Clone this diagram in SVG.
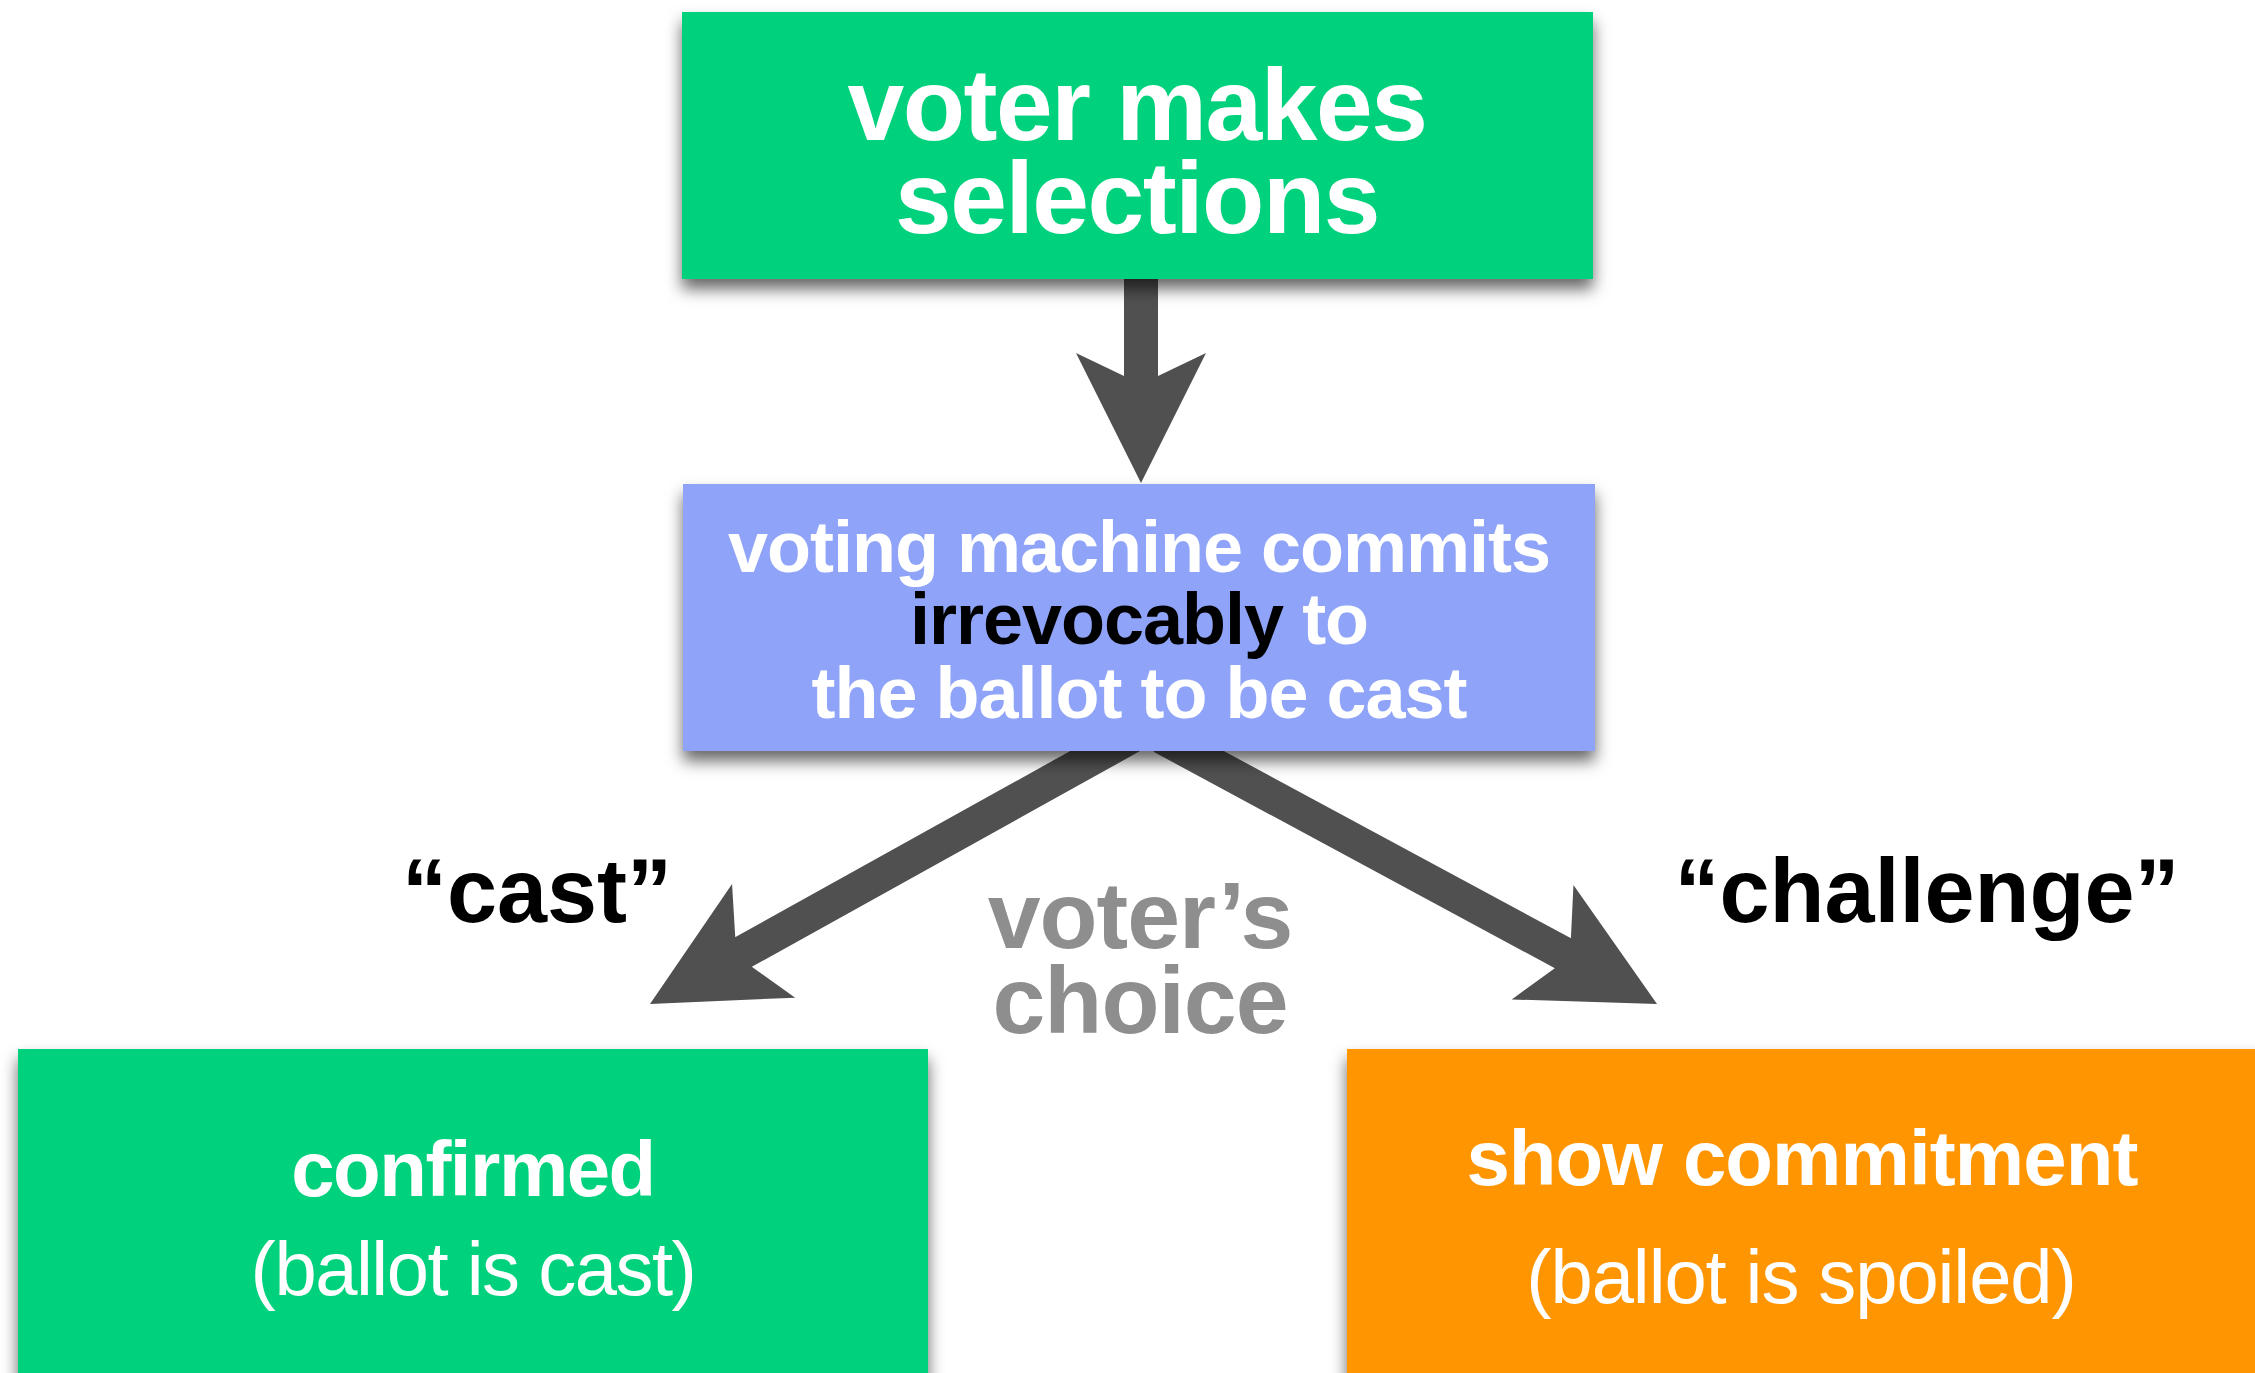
<svg xmlns="http://www.w3.org/2000/svg" width="2255" height="1373" viewBox="0 0 2255 1373">
<style>
  .bold { font-family: "Liberation Sans", Arial, sans-serif; font-weight: 700; }
  .reg { font-family: "Liberation Sans", Arial, sans-serif; font-weight: 400; }
  .w { fill: #ffffff; }
  .k { fill: #000000; }
  .g { fill: #8e8e8e; }
  .conn { stroke: #505050; stroke-width: 34; fill: none; marker-end: url(#head); }
  .box { filter: url(#shadow); }
</style>
<defs>
  <filter id="shadow" x="-10%" y="-20%" width="120%" height="150%">
    <feDropShadow dx="0" dy="10" stdDeviation="8" flood-color="#000" flood-opacity="0.6"/>
  </filter>
  <marker id="head" markerUnits="userSpaceOnUse" viewBox="-135 -70 140 140" markerWidth="140" markerHeight="140" refX="-100" refY="0" orient="auto">
    <path d="M0,0 L-130,-65 L-107,-17 L-107,17 L-130,65 Z" fill="#505050"/>
  </marker>
</defs>
<rect x="0" y="0" width="2255" height="1373" fill="#ffffff"/>

<g id="connectors">
  <path class="conn" d="M1141,270 L1141,383"/>
  <path class="conn" d="M1134,735 L737.4,955.4"/>
  <path class="conn" d="M1161.6,736.8 L1569,956.5"/>
</g>

<g id="node-voter-makes-selections">
  <rect class="box" x="682" y="12" width="911" height="267" fill="#00d17b"/>
  <text class="bold w" font-size="102" letter-spacing="-1.5" text-anchor="middle"><tspan x="1137" y="140">voter makes</tspan><tspan x="1137" y="233">selections</tspan></text>
</g>

<g id="node-machine-commits">
  <rect class="box" x="683" y="484" width="912" height="267" fill="#8fa4f8"/>
  <text class="bold w" font-size="72" letter-spacing="-1" text-anchor="middle"><tspan x="1139" y="572">voting machine commits</tspan><tspan x="1139" y="644"><tspan class="k">irrevocably</tspan> to</tspan><tspan x="1139" y="718">the ballot to be cast</tspan></text>
</g>

<g id="label-cast">
  <text class="bold k" x="537" y="922" font-size="90" text-anchor="middle">“cast”</text>
</g>
<g id="label-challenge">
  <text class="bold k" x="1927" y="922" font-size="90" text-anchor="middle">“challenge”</text>
</g>
<g id="label-voters-choice">
  <text class="bold g" font-size="95" letter-spacing="-1" text-anchor="middle"><tspan x="1140" y="948">voter’s</tspan><tspan x="1140" y="1033">choice</tspan></text>
</g>

<g id="node-confirmed">
  <rect class="box" x="18" y="1049" width="910" height="360" fill="#00d17b"/>
  <text class="bold w" x="473" y="1196" font-size="78" letter-spacing="-1.5" text-anchor="middle">confirmed</text>
  <text class="reg w" x="473" y="1295" font-size="76" letter-spacing="-1.5" text-anchor="middle">(ballot is cast)</text>
</g>

<g id="node-show-commitment">
  <rect class="box" x="1347" y="1049" width="930" height="360" fill="#ff9500"/>
  <text class="bold w" x="1802" y="1185" font-size="78" letter-spacing="-0.9" text-anchor="middle">show commitment</text>
  <text class="reg w" x="1801" y="1303" font-size="76" letter-spacing="-1.1" text-anchor="middle">(ballot is spoiled)</text>
</g>
</svg>
